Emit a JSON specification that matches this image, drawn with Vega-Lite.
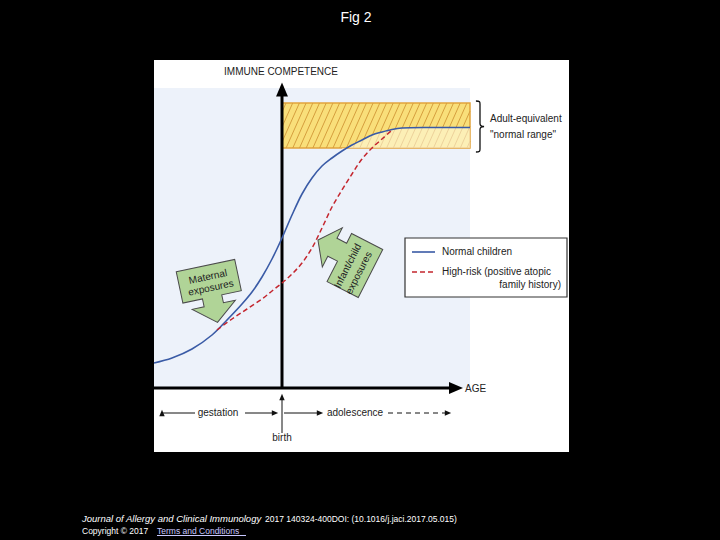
{
  "$schema": "https://vega.github.io/schema/vega-lite/v6.json",
  "width": 720,
  "height": 540,
  "autosize": {"type": "fit", "contains": "padding"},
  "padding": 0,
  "background": "#000000",
  "config": {"view": {"stroke": null}, "text": {"font": "Liberation Sans"}},
  "datasets": {
    "panel": [{"x": -12.8, "x2": 28.7, "y": -6.4, "y2": 32.8}],
    "blue": [{"x": -12.8, "x2": 18.8, "y": 0, "y2": 30.0}],
    "band": [{"x": 0, "x2": 18.8, "y": 24.0, "y2": 28.5}],
    "hatch": [
      {"x": 0, "y": 27.6, "x2": 0.4, "y2": 28.5},
      {"x": 0, "y": 26.09, "x2": 1.07, "y2": 28.5},
      {"x": 0, "y": 24.59, "x2": 1.74, "y2": 28.5},
      {"x": 0.41, "y": 24, "x2": 2.41, "y2": 28.5},
      {"x": 1.08, "y": 24, "x2": 3.08, "y2": 28.5},
      {"x": 1.75, "y": 24, "x2": 3.75, "y2": 28.5},
      {"x": 2.42, "y": 24, "x2": 4.42, "y2": 28.5},
      {"x": 3.09, "y": 24, "x2": 5.09, "y2": 28.5},
      {"x": 3.76, "y": 24, "x2": 5.76, "y2": 28.5},
      {"x": 4.43, "y": 24, "x2": 6.43, "y2": 28.5},
      {"x": 5.10, "y": 24, "x2": 7.10, "y2": 28.5},
      {"x": 5.77, "y": 24, "x2": 7.77, "y2": 28.5},
      {"x": 6.44, "y": 24, "x2": 8.44, "y2": 28.5},
      {"x": 7.11, "y": 24, "x2": 9.11, "y2": 28.5},
      {"x": 7.78, "y": 24, "x2": 9.78, "y2": 28.5},
      {"x": 8.45, "y": 24, "x2": 10.45, "y2": 28.5},
      {"x": 9.12, "y": 24, "x2": 11.12, "y2": 28.5},
      {"x": 9.79, "y": 24, "x2": 11.79, "y2": 28.5},
      {"x": 10.46, "y": 24, "x2": 12.46, "y2": 28.5},
      {"x": 11.13, "y": 24, "x2": 13.13, "y2": 28.5},
      {"x": 11.80, "y": 24, "x2": 13.80, "y2": 28.5},
      {"x": 12.47, "y": 24, "x2": 14.47, "y2": 28.5},
      {"x": 13.14, "y": 24, "x2": 15.14, "y2": 28.5},
      {"x": 13.81, "y": 24, "x2": 15.81, "y2": 28.5},
      {"x": 14.48, "y": 24, "x2": 16.48, "y2": 28.5},
      {"x": 15.15, "y": 24, "x2": 17.15, "y2": 28.5},
      {"x": 15.82, "y": 24, "x2": 17.82, "y2": 28.5},
      {"x": 16.49, "y": 24, "x2": 18.49, "y2": 28.5},
      {"x": 17.16, "y": 24, "x2": 18.8, "y2": 27.69},
      {"x": 17.83, "y": 24, "x2": 18.8, "y2": 26.18},
      {"x": 18.50, "y": 24, "x2": 18.8, "y2": 24.68}
    ],
    "normal": [
      {"x": -12.8, "y": 2.5}, {"x": -11, "y": 3.0}, {"x": -9, "y": 3.9},
      {"x": -7, "y": 5.3}, {"x": -5.5, "y": 6.8}, {"x": -4, "y": 8.4},
      {"x": -3, "y": 9.6}, {"x": -2, "y": 11.1}, {"x": -1, "y": 12.9},
      {"x": 0, "y": 15.0}, {"x": 1, "y": 17.3}, {"x": 2, "y": 19.4},
      {"x": 3, "y": 21.0}, {"x": 4, "y": 22.2}, {"x": 5, "y": 23.0},
      {"x": 6, "y": 23.7}, {"x": 7, "y": 24.3}, {"x": 8, "y": 24.8},
      {"x": 9, "y": 25.3}, {"x": 10, "y": 25.6}, {"x": 11, "y": 25.85},
      {"x": 12, "y": 26.0}, {"x": 15, "y": 26.05}, {"x": 18.8, "y": 26.05}
    ],
    "highrisk": [
      {"x": -6.5, "y": 5.8}, {"x": -5, "y": 6.9}, {"x": -3.5, "y": 7.9},
      {"x": -2, "y": 8.9}, {"x": -1, "y": 9.7}, {"x": 0, "y": 10.5},
      {"x": 1, "y": 11.4}, {"x": 2, "y": 12.5}, {"x": 3, "y": 14.0},
      {"x": 4, "y": 16.0}, {"x": 5, "y": 18.1}, {"x": 6, "y": 19.8},
      {"x": 7, "y": 21.4}, {"x": 8, "y": 22.9}, {"x": 9, "y": 24.0},
      {"x": 10, "y": 24.9}, {"x": 11, "y": 25.8}
    ],
    "axes": [
      {"x": 0, "x2": 0, "y": 0, "y2": 29.3},
      {"x": -12.8, "x2": 16.9, "y": 0, "y2": 0}
    ],
    "bigheads": [
      {"x": 0, "y": 29.85, "dir": "up"},
      {"x": 17.4, "y": 0, "dir": "right"}
    ],
    "segs": [
      {"x": -12.0, "x2": -8.7, "y": -2.5, "y2": -2.5},
      {"x": -3.7, "x2": -0.9, "y": -2.5, "y2": -2.5},
      {"x": 0.2, "x2": 3.6, "y": -2.5, "y2": -2.5},
      {"x": 0, "x2": 0, "y": -4.5, "y2": -0.9}
    ],
    "dashseg": [{"x": 10.6, "x2": 16.3, "y": -2.5, "y2": -2.5}],
    "smallheads": [
      {"x": -12.0, "y": -2.5, "dir": "left"},
      {"x": -0.7, "y": -2.5, "dir": "right"},
      {"x": 3.8, "y": -2.5, "dir": "right"},
      {"x": 16.6, "y": -2.5, "dir": "right"},
      {"x": 0, "y": -0.9, "dir": "up"}
    ],
    "maternal": [{"x": -7.05, "y": 9.4}],
    "infant": [{"x": 6.09, "y": 12.86}],
    "brace": [{"x": 19.8, "y": 26.15}],
    "legendbox": [{"x": 12.3, "x2": 28.5, "y": 9.1, "y2": 15.0}],
    "legnormal": [{"x": 13.0, "y": 13.6}, {"x": 15.3, "y": 13.6}],
    "legrisk": [{"x": 13.0, "y": 11.6}, {"x": 15.3, "y": 11.6}],
    "textleft": [
      {"x": 16.0, "y": 13.6, "t": "Normal children"},
      {"x": 16.0, "y": 11.6, "t": "High-risk (positive atopic"},
      {"x": 20.8, "y": 26.9, "t": "Adult-equivalent"},
      {"x": 20.8, "y": 25.3, "t": "\"normal range\""},
      {"x": 18.3, "y": -0.1, "t": "AGE"}
    ],
    "textright": [{"x": 27.9, "y": 10.3, "t": "family history)"}],
    "textcenter": [
      {"x": -0.1, "y": 31.6, "t": "IMMUNE COMPETENCE"},
      {"x": -6.4, "y": -2.5, "t": "gestation"},
      {"x": 7.3, "y": -2.5, "t": "adolescence"},
      {"x": 0, "y": -5.0, "t": "birth"}
    ],
    "textmaternal": [
      {"x": -7.4, "y": 11.1, "t": "Maternal"},
      {"x": -7.1, "y": 10.0, "t": "exposures"}
    ],
    "textinfant": [
      {"x": 6.6, "y": 12.2, "t": "Infant/child"},
      {"x": 7.7, "y": 11.5, "t": "exposures"}
    ],
    "title": [{"x": 7.4, "y": 37.0, "t": "Fig 2"}],
    "footitalic": [{"x": -20.0, "y": -13.1, "t": "Journal of Allergy and Clinical Immunology"}],
    "footregular": [
      {"x": -1.7, "y": -13.1, "t": "2017 140324-400DOI: (10.1016/j.jaci.2017.05.015)"},
      {"x": -20.0, "y": -14.3, "t": "Copyright © 2017"}
    ],
    "footlink": [{"x": -12.5, "y": -14.3, "t": "Terms and Conditions"}],
    "underline": [{"x": -12.5, "x2": -3.6, "y": -14.75, "y2": -14.75}]
  },
  "encoding": {
    "x": {"field": "x", "type": "quantitative", "scale": {"domain": [-28.2, 43.8], "nice": false, "zero": false}, "axis": null},
    "y": {"field": "y", "type": "quantitative", "scale": {"domain": [-15.2, 38.8], "nice": false, "zero": false}, "axis": null}
  },
  "layer": [
    {"data": {"name": "panel"}, "mark": {"type": "rect", "fill": "#ffffff"},
     "encoding": {"x2": {"field": "x2"}, "y2": {"field": "y2"}}},
    {"data": {"name": "blue"}, "mark": {"type": "rect", "fill": "#edf2fa"},
     "encoding": {"x2": {"field": "x2"}, "y2": {"field": "y2"}}},
    {"data": {"name": "band"}, "mark": {"type": "rect", "fill": "#f9df7a", "stroke": "#e2a43c", "strokeWidth": 1.5},
     "encoding": {"x2": {"field": "x2"}, "y2": {"field": "y2"}}},
    {"data": {"name": "hatch"}, "mark": {"type": "rule", "stroke": "#d69f3e", "strokeWidth": 1},
     "encoding": {"x2": {"field": "x2"}, "y2": {"field": "y2"}}},
    {"data": {"name": "normal"}, "transform": [{"filter": "datum.x >= 6"}],
     "mark": {"type": "area", "fill": "#fffbe8", "opacity": 0.55, "interpolate": "catmull-rom"},
     "encoding": {"y2": {"datum": 24.0}}},
    {"data": {"name": "axes"}, "mark": {"type": "rule", "stroke": "#000000", "strokeWidth": 3},
     "encoding": {"x2": {"field": "x2"}, "y2": {"field": "y2"}}},
    {"data": {"name": "bigheads"}, "mark": {"type": "point", "filled": true, "fill": "#000000", "stroke": null, "opacity": 1, "size": 196},
     "encoding": {"shape": {"field": "dir", "type": "nominal", "legend": null,
       "scale": {"domain": ["up", "right"], "range": ["M0,-1L0.85,1L-0.85,1Z", "M1,0L-1,0.85L-1,-0.85Z"]}}}},
    {"data": {"name": "normal"}, "mark": {"type": "line", "stroke": "#3a5ba6", "strokeWidth": 1.6, "interpolate": "catmull-rom"}, "encoding": {}},
    {"data": {"name": "highrisk"}, "mark": {"type": "line", "stroke": "#c4262e", "strokeWidth": 1.5, "strokeDash": [5, 3], "interpolate": "catmull-rom"}, "encoding": {}},
    {"data": {"name": "maternal"}, "mark": {"type": "point", "filled": true, "fill": "#b0d497", "stroke": "#4a4a4a", "strokeWidth": 1, "opacity": 1, "size": 3364, "angle": -12,
      "shape": "M-1.03,-1L1.03,-1L1.03,0.1L0.34,0.1L0.34,0.38L0.76,0.38L0,1L-0.76,0.38L-0.34,0.38L-0.34,0.1L-1.03,0.1Z"}, "encoding": {}},
    {"data": {"name": "infant"}, "mark": {"type": "point", "filled": true, "fill": "#b0d497", "stroke": "#4a4a4a", "strokeWidth": 1, "opacity": 1, "size": 3844, "angle": -63,
      "shape": "M-0.87,1L0.87,1L0.87,-0.13L0.52,-0.13L0.52,-0.48L0.9,-0.48L0.19,-1L-0.52,-0.48L-0.13,-0.48L-0.13,-0.13L-0.87,-0.13Z"}, "encoding": {}},
    {"data": {"name": "textmaternal"}, "mark": {"type": "text", "fontSize": 10, "fill": "#222222", "angle": -12, "align": "center", "baseline": "middle"},
     "encoding": {"text": {"field": "t"}}},
    {"data": {"name": "textinfant"}, "mark": {"type": "text", "fontSize": 10, "fill": "#222222", "angle": -63, "align": "center", "baseline": "middle"},
     "encoding": {"text": {"field": "t"}}},
    {"data": {"name": "legendbox"}, "mark": {"type": "rect", "fill": "#ffffff", "stroke": "#333333", "strokeWidth": 1.2},
     "encoding": {"x2": {"field": "x2"}, "y2": {"field": "y2"}}},
    {"data": {"name": "legnormal"}, "mark": {"type": "line", "stroke": "#3a5ba6", "strokeWidth": 1.6}, "encoding": {}},
    {"data": {"name": "legrisk"}, "mark": {"type": "line", "stroke": "#c4262e", "strokeWidth": 1.5, "strokeDash": [5, 3]}, "encoding": {}},
    {"data": {"name": "textleft"}, "mark": {"type": "text", "fontSize": 10, "fill": "#222222", "align": "left", "baseline": "middle"},
     "encoding": {"text": {"field": "t"}}},
    {"data": {"name": "textright"}, "mark": {"type": "text", "fontSize": 10, "fill": "#222222", "align": "right", "baseline": "middle"},
     "encoding": {"text": {"field": "t"}}},
    {"data": {"name": "textcenter"}, "mark": {"type": "text", "fontSize": 10, "fill": "#222222", "align": "center", "baseline": "middle"},
     "encoding": {"text": {"field": "t"}}},
    {"data": {"name": "segs"}, "mark": {"type": "rule", "stroke": "#111111", "strokeWidth": 1},
     "encoding": {"x2": {"field": "x2"}, "y2": {"field": "y2"}}},
    {"data": {"name": "dashseg"}, "mark": {"type": "rule", "stroke": "#111111", "strokeWidth": 1, "strokeDash": [5, 4]},
     "encoding": {"x2": {"field": "x2"}, "y2": {"field": "y2"}}},
    {"data": {"name": "smallheads"}, "mark": {"type": "point", "filled": true, "fill": "#111111", "stroke": null, "opacity": 1, "size": 40},
     "encoding": {"shape": {"field": "dir", "type": "nominal", "legend": null,
       "scale": {"domain": ["left", "right", "up"], "range": ["M-1,0L1,0.8L1,-0.8Z", "M1,0L-1,0.8L-1,-0.8Z", "M0,-1L0.8,1L-0.8,1Z"]}}}},
    {"data": {"name": "brace"}, "mark": {"type": "point", "filled": false, "stroke": "#111111", "strokeWidth": 1.3, "opacity": 1, "size": 2601,
      "shape": "M-0.16,-1C0,-1 0,-0.96 0,-0.88L0,-0.12C0,-0.04 0.04,0 0.16,0C0.04,0 0,0.04 0,0.12L0,0.88C0,0.96 0,1 -0.16,1"}, "encoding": {}},
    {"data": {"name": "title"}, "mark": {"type": "text", "fontSize": 14, "fill": "#ffffff", "align": "center", "baseline": "middle"},
     "encoding": {"text": {"field": "t"}}},
    {"data": {"name": "footitalic"}, "mark": {"type": "text", "fontSize": 9.5, "fontStyle": "italic", "fill": "#ffffff", "align": "left", "baseline": "middle"},
     "encoding": {"text": {"field": "t"}}},
    {"data": {"name": "footregular"}, "mark": {"type": "text", "fontSize": 8.5, "fill": "#ffffff", "align": "left", "baseline": "middle"},
     "encoding": {"text": {"field": "t"}}},
    {"data": {"name": "footlink"}, "mark": {"type": "text", "fontSize": 8.5, "fill": "#c8c8ff", "align": "left", "baseline": "middle"},
     "encoding": {"text": {"field": "t"}}},
    {"data": {"name": "underline"}, "mark": {"type": "rule", "stroke": "#c8c8ff", "strokeWidth": 1},
     "encoding": {"x2": {"field": "x2"}, "y2": {"field": "y2"}}}
  ]
}
